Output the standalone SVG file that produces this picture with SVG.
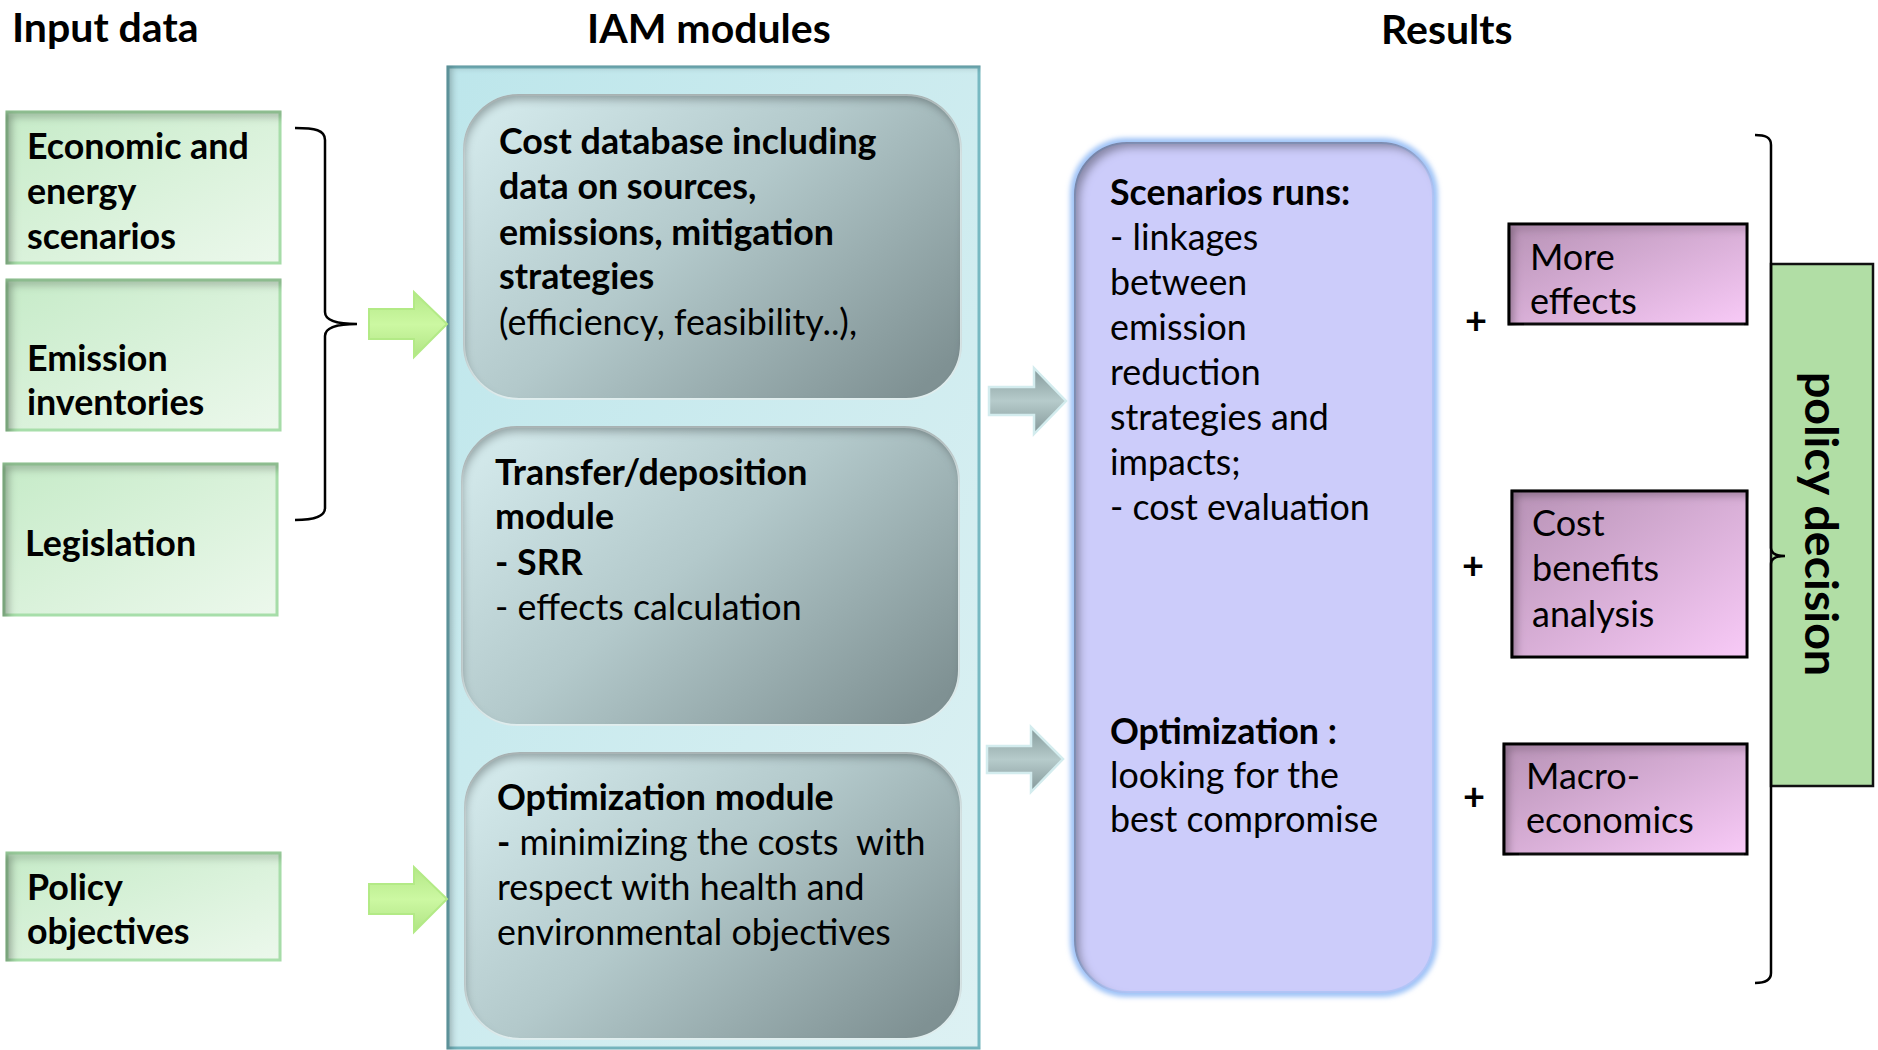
<svg xmlns="http://www.w3.org/2000/svg" width="1878" height="1050" viewBox="0 0 1878 1050">
  <style>
    text { font-family: Lato, "Liberation Sans", sans-serif; fill: #000; }
    .title { font-size: 41px; font-weight: bold; }
    .b { font-size: 35.8px; font-weight: bold; }
    .r { font-size: 35.8px; font-weight: normal; }
    .pk { font-size: 36px; font-weight: normal; }
    .pd { font-size: 46.5px; font-weight: bold; text-anchor: middle; }
    .plus { font-size: 38px; font-weight: bold; text-anchor: middle; }
    .inbox { fill: url(#gIn); stroke: #a8dfaa; stroke-width: 3; }
    .module { fill: url(#gMod); stroke: #e2f0f1; stroke-width: 2; }
    .pink { fill: url(#gPink); stroke: #111; stroke-width: 3; }
    .garrow { fill: url(#gGreenArrow); stroke: #b3ea86; stroke-width: 2; }
    .grarrow { fill: url(#gGrayArrow); stroke: #d3ecee; stroke-width: 2.5; }
    .brace { fill: none; stroke: #000; stroke-width: 2.5; }
  </style>
  <defs>
    <linearGradient id="gIn" x1="0" y1="0" x2="1" y2="1">
      <stop offset="0" stop-color="#c6ebc8"/>
      <stop offset="1" stop-color="#ecf8ec"/>
    </linearGradient>
    <linearGradient id="gCont" x1="0" y1="0" x2="1" y2="1">
      <stop offset="0" stop-color="#bde6eb"/>
      <stop offset="1" stop-color="#ddf1f3"/>
    </linearGradient>
    <linearGradient id="gMod" x1="0" y1="0.15" x2="1" y2="0.85">
      <stop offset="0" stop-color="#d2e8ea"/>
      <stop offset="0.45" stop-color="#b3c9cb"/>
      <stop offset="1" stop-color="#7f9193"/>
    </linearGradient>
    <linearGradient id="gPink" x1="0" y1="0" x2="1" y2="1">
      <stop offset="0" stop-color="#b792b5"/>
      <stop offset="1" stop-color="#f8caf7"/>
    </linearGradient>
    <linearGradient id="gGreenArrow" x1="0" y1="0" x2="0" y2="1">
      <stop offset="0" stop-color="#b4e888"/>
      <stop offset="0.5" stop-color="#ccf8a2"/>
      <stop offset="1" stop-color="#b0e484"/>
    </linearGradient>
    <linearGradient id="gGrayArrow" x1="0" y1="0" x2="0" y2="1">
      <stop offset="0" stop-color="#849a9b"/>
      <stop offset="0.5" stop-color="#b6cbcb"/>
      <stop offset="1" stop-color="#849899"/>
    </linearGradient>
    <filter id="inset" x="-5%" y="-5%" width="110%" height="110%">
      <feFlood flood-color="#000" flood-opacity="0.6" result="f"/>
      <feComposite in="f" in2="SourceAlpha" operator="out" result="o"/>
      <feOffset in="o" dx="6" dy="6" result="off"/>
      <feGaussianBlur in="off" stdDeviation="4" result="bl"/>
      <feComposite in="bl" in2="SourceAlpha" operator="in" result="s"/>
      <feMerge><feMergeNode in="SourceGraphic"/><feMergeNode in="s"/></feMerge>
    </filter>
    <filter id="insetTop" x="-5%" y="-5%" width="110%" height="110%">
      <feFlood flood-color="#000" flood-opacity="0.55" result="f"/>
      <feComposite in="f" in2="SourceAlpha" operator="out" result="o"/>
      <feOffset in="o" dx="2" dy="6" result="off"/>
      <feGaussianBlur in="off" stdDeviation="4" result="bl"/>
      <feComposite in="bl" in2="SourceAlpha" operator="in" result="s"/>
      <feMerge><feMergeNode in="SourceGraphic"/><feMergeNode in="s"/></feMerge>
    </filter>
    <filter id="insetLeft" x="-5%" y="-5%" width="110%" height="110%">
      <feFlood flood-color="#000" flood-opacity="0.45" result="f"/>
      <feComposite in="f" in2="SourceAlpha" operator="out" result="o"/>
      <feOffset in="o" dx="6" dy="2" result="off"/>
      <feGaussianBlur in="off" stdDeviation="3" result="bl"/>
      <feComposite in="bl" in2="SourceAlpha" operator="in" result="s"/>
      <feMerge><feMergeNode in="SourceGraphic"/><feMergeNode in="s"/></feMerge>
    </filter>
    <filter id="glow" x="-10%" y="-10%" width="120%" height="120%">
      <feGaussianBlur stdDeviation="2.5"/>
    </filter>
  </defs>

  <!-- Titles -->
  <text class="title" x="12" y="42">Input data</text>
  <text class="title" x="587" y="43">IAM modules</text>
  <text class="title" x="1381" y="44">Results</text>

  <!-- Input nodes -->
  <g id="node-economic">
    <rect class="inbox" x="7" y="112" width="273" height="151" filter="url(#inset)"/>
    <text class="b" x="27" y="159">Economic and</text>
    <text class="b" x="27" y="204">energy</text>
    <text class="b" x="27" y="249">scenarios</text>
  </g>
  <g id="node-emission">
    <rect class="inbox" x="7" y="280" width="273" height="150" filter="url(#inset)"/>
    <text class="b" x="27" y="371">Emission</text>
    <text class="b" x="27" y="415">inventories</text>
  </g>
  <g id="node-legislation">
    <rect class="inbox" x="4" y="464" width="273" height="151" filter="url(#inset)"/>
    <text class="b" x="25" y="556">Legislation</text>
  </g>
  <g id="node-policy-objectives">
    <rect class="inbox" x="7" y="853" width="273" height="107" filter="url(#inset)"/>
    <text class="b" x="27" y="900">Policy</text>
    <text class="b" x="27" y="944">objectives</text>
  </g>

  <!-- IAM container and modules -->
  <g id="node-iam">
    <rect x="448" y="67" width="531" height="981" fill="url(#gCont)" stroke="#78b9c2" stroke-width="3" filter="url(#insetLeft)"/>
  </g>
  <g id="node-cost-database">
    <rect class="module" x="464" y="95" width="497" height="304" rx="55" filter="url(#insetTop)"/>
    <text class="b" x="499" y="154">Cost database including</text>
    <text class="b" x="499" y="199">data on sources,</text>
    <text class="b" x="499" y="245">emissions, mitigation</text>
    <text class="b" x="499" y="289">strategies</text>
    <text class="r" x="499" y="335">(efficiency, feasibility..),</text>
  </g>
  <g id="node-transfer">
    <rect class="module" x="462" y="427" width="497" height="298" rx="55" filter="url(#insetTop)"/>
    <text class="b" x="495" y="485">Transfer/deposition</text>
    <text class="b" x="495" y="529">module</text>
    <text class="b" x="495" y="575">- SRR</text>
    <text class="r" x="495" y="620">- effects calculation</text>
  </g>
  <g id="node-optimization-module">
    <rect class="module" x="465" y="753" width="496" height="286" rx="55" filter="url(#insetTop)"/>
    <text class="b" x="497" y="810">Optimization module</text>
    <text class="r" x="497" y="855" style="white-space:pre"><tspan font-weight="bold">-</tspan> minimizing the costs  with</text>
    <text class="r" x="497" y="900">respect with health and</text>
    <text class="r" x="497" y="945">environmental objectives</text>
  </g>

  <!-- Results -->
  <g id="node-scenarios">
    <rect x="1075" y="143" width="358" height="849" rx="52" fill="none" stroke="#9fc3f7" stroke-width="10" filter="url(#glow)"/>
    <rect x="1075" y="143" width="358" height="849" rx="52" fill="#ccccfa" stroke="#b2c6f8" stroke-width="2" filter="url(#inset)"/>
    <text class="b" x="1110" y="205">Scenarios runs:</text>
    <text class="r" x="1110" y="250">- linkages</text>
    <text class="r" x="1110" y="295">between</text>
    <text class="r" x="1110" y="340">emission</text>
    <text class="r" x="1110" y="385">reduction</text>
    <text class="r" x="1110" y="430">strategies and</text>
    <text class="r" x="1110" y="475">impacts;</text>
    <text class="r" x="1110" y="520">- cost evaluation</text>
    <text class="b" x="1110" y="744">Optimization :</text>
    <text class="r" x="1110" y="788">looking for the</text>
    <text class="r" x="1110" y="832">best compromise</text>
  </g>

  <g id="node-more-effects">
    <rect class="pink" x="1509" y="224" width="238" height="100" filter="url(#inset)"/>
    <text class="pk" x="1530" y="270">More</text>
    <text class="pk" x="1530" y="314">effects</text>
  </g>
  <g id="node-cost-benefits">
    <rect class="pink" x="1512" y="491" width="235" height="166" filter="url(#inset)"/>
    <text class="pk" x="1532" y="536">Cost</text>
    <text class="pk" x="1532" y="581">benefits</text>
    <text class="pk" x="1532" y="627">analysis</text>
  </g>
  <g id="node-macro">
    <rect class="pink" x="1504" y="744" width="243" height="110" filter="url(#inset)"/>
    <text class="pk" x="1526" y="789">Macro-</text>
    <text class="pk" x="1526" y="833">economics</text>
  </g>

  <g id="node-policy-decision">
    <rect x="1771" y="264" width="102" height="522" fill="#b1dea5" stroke="#111" stroke-width="2.5"/>
    <text class="pd" transform="translate(1805,524) rotate(90)">policy decision</text>
  </g>

  <!-- Connectors -->
  <g id="connectors">
    <path class="brace" d="M295,128 C315,128 325,130 325,140 L325,312 C325,320 335,324 357,324 C335,324 325,328 325,336 L325,508 C325,516 315,520 295,520"/>
    <path class="brace" d="M1755,135 C1765,135 1771,137 1771,145 L1771,548 C1771,553 1775,556 1785,556 C1775,556 1771,559 1771,564 L1771,973 C1771,980 1765,983 1755,983"/>
    <path class="garrow" d="M369,309 L414,309 L414,292 L447,324 L414,357 L414,339 L369,339 Z"/>
    <path class="garrow" d="M369,884 L414,884 L414,867 L447,899 L414,932 L414,914 L369,914 Z"/>
    <path class="grarrow" d="M989,387 L1034,387 L1034,368 L1066,401 L1034,434 L1034,415 L989,415 Z"/>
    <path class="grarrow" d="M987,746 L1031,746 L1031,727 L1063,759 L1031,792 L1031,773 L987,773 Z"/>
    <text class="plus" x="1476" y="334">+</text>
    <text class="plus" x="1473" y="579">+</text>
    <text class="plus" x="1474" y="810">+</text>
  </g>
</svg>
